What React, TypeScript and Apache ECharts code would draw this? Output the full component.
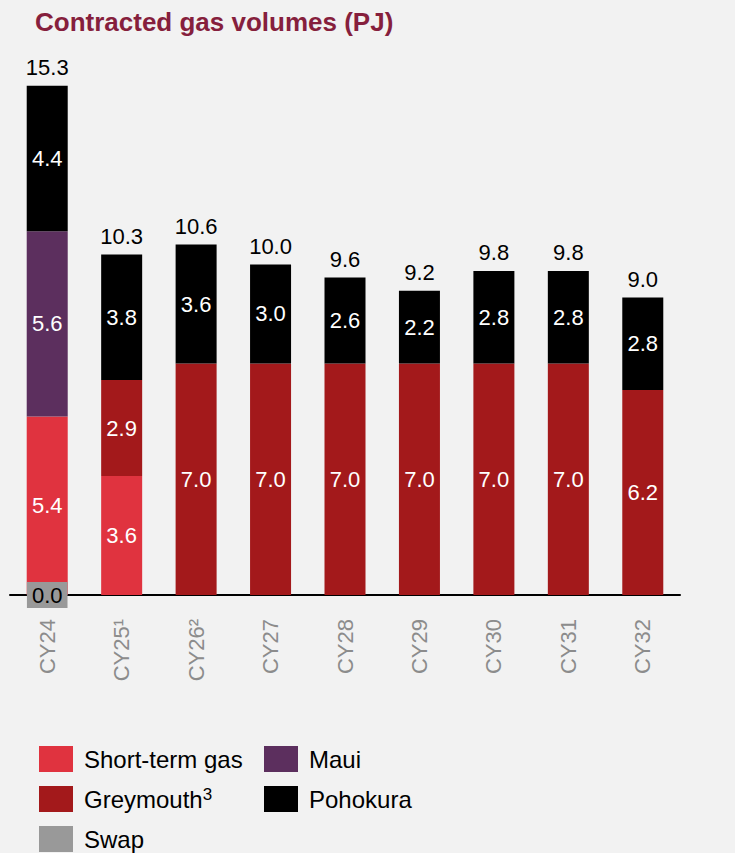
import React, { useEffect, useRef } from "react";
import * as echarts from "echarts";

const categories = ["CY24", "CY25¹", "CY26²", "CY27", "CY28", "CY29", "CY30", "CY31", "CY32"];
const swap = [0.0, "-", "-", "-", "-", "-", "-", "-", "-"];
const shortTerm = [5.4, 3.6, "-", "-", "-", "-", "-", "-", "-"];
const greymouth = ["-", 2.9, 7.0, 7.0, 7.0, 7.0, 7.0, 7.0, 6.2];
const maui = [5.6, "-", "-", "-", "-", "-", "-", "-", "-"];
const pohokura = [4.4, 3.8, 3.6, 3.0, 2.6, 2.2, 2.8, 2.8, 2.8];
const totals = [15.3, 10.3, 10.6, 10.0, 9.6, 9.2, 9.8, 9.8, 9.0];

const FONT = "'Liberation Sans', Arial, sans-serif";

export default function App() {
  const ref = useRef<HTMLDivElement>(null);
  useEffect(() => {
    if (!ref.current) return;
    const chart = echarts.init(ref.current, null, { renderer: "svg" });
    const inside = {
      show: true,
      position: "inside",
      color: "#fff",
      fontSize: 22,
      fontFamily: FONT,
      formatter: (p: any) => Number(p.value).toFixed(1),
    };
    const mk = (name: string, data: any[], color: string) => ({
      name,
      type: "bar",
      stack: "a",
      data,
      barWidth: 41,
      itemStyle: { color },
      label: inside,
    });
    const legendText = {
      fontSize: 24,
      lineHeight: 26,
      color: "#000",
      fontFamily: FONT,
      padding: [0, 0, 0, 6],
    };
    chart.setOption({
      animation: false,
      backgroundColor: "#F2F2F2",
      textStyle: { fontFamily: FONT },
      title: {
        text: "Contracted gas volumes (PJ)",
        left: 30,
        top: 4,
        textStyle: { color: "#861F3D", fontSize: 26, fontWeight: "bold", fontFamily: FONT },
      },
      grid: { left: 10, right: 55, top: 66, bottom: 258 },
      legend: [
        {
          data: ["Short-term gas", "Greymouth", "Swap"],
          orient: "vertical",
          left: 39,
          top: 746,
          height: 140,
          padding: 0,
          itemWidth: 34,
          itemHeight: 26,
          itemGap: 14,
          icon: "rect",
          formatter: (n: string) => (n === "Greymouth" ? "Greymouth{sup|3}" : n),
          textStyle: {
            ...legendText,
            rich: { sup: { fontSize: 17, lineHeight: 17, verticalAlign: "top", fontFamily: FONT, color: "#000" } },
          },
        },
        {
          data: ["Maui", "Pohokura"],
          orient: "vertical",
          left: 264,
          top: 746,
          height: 140,
          padding: 0,
          itemWidth: 34,
          itemHeight: 26,
          itemGap: 14,
          icon: "rect",
          textStyle: legendText,
        },
      ],
      xAxis: {
        type: "category",
        data: categories,
        axisLine: { show: true, lineStyle: { color: "#000", width: 2 } },
        axisTick: { show: false },
        axisLabel: { rotate: 90, margin: 24, fontSize: 22, color: "#8C8C8C", fontFamily: FONT },
      },
      yAxis: {
        type: "value",
        min: 0,
        max: 16,
        show: false,
        splitLine: { show: false },
      },
      series: [
        {
          ...mk("Swap", swap, "#999999"),
          z: 5,
          label: {
            show: true,
            position: "inside",
            color: "#000",
            fontSize: 22,
            lineHeight: 22,
            fontFamily: FONT,
            backgroundColor: "#999999",
            padding: [2, 5, 2, 5],
            formatter: (p: any) => Number(p.value).toFixed(1),
          },
        },
        mk("Short-term gas", shortTerm, "#E0333F"),
        mk("Greymouth", greymouth, "#A3191B"),
        mk("Maui", maui, "#5C2F5E"),
        mk("Pohokura", pohokura, "#000000"),
        {
          name: "Total",
          type: "bar",
          stack: "a",
          barWidth: 41,
          data: totals.map(() => 0),
          itemStyle: { color: "transparent" },
          silent: true,
          label: {
            show: true,
            position: "top",
            distance: 7,
            color: "#000",
            fontSize: 22,
            fontFamily: FONT,
            formatter: (p: any) => totals[p.dataIndex].toFixed(1),
          },
        },
      ],
    });
    return () => chart.dispose();
  }, []);
  return (
    <div
      ref={ref}
      style={{ position: "fixed", left: 0, top: 0, width: 735, height: 853, background: "#F2F2F2" }}
    />
  );
}
